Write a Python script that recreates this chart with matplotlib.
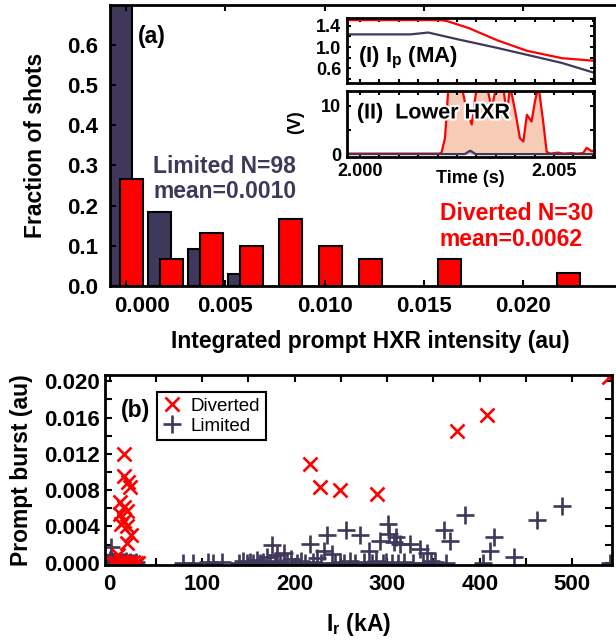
import numpy as np
import matplotlib.pyplot as plt
import matplotlib.patheffects as pe
from matplotlib.ticker import MultipleLocator, FixedLocator, FixedFormatter, NullFormatter

plt.rcParams.update({
    "font.family": "Liberation Sans",
    "font.weight": "bold",
    "axes.labelweight": "bold",
    "axes.linewidth": 2.0,
    "xtick.direction": "in",
    "ytick.direction": "in",
    "xtick.top": True,
    "ytick.right": True,
    "xtick.major.width": 1.5,
    "ytick.major.width": 1.5,
    "xtick.minor.width": 1.5,
    "ytick.minor.width": 1.5,
    "mathtext.fontset": "custom",
    "mathtext.rm": "Liberation Sans:bold",
    "mathtext.it": "Liberation Sans:bold",
    "mathtext.bf": "Liberation Sans:bold",
    "mathtext.default": "rm",
})

# (a) histogram of integrated prompt HXR intensity, bins of 0.002
limited_bins = [0.000, 0.002, 0.004, 0.006]
limited_frac = [0.704, 0.184, 0.092, 0.031]
diverted_bins = [0.000, 0.002, 0.004, 0.006, 0.008, 0.010, 0.012, 0.016, 0.022]
diverted_frac = [0.267, 0.067, 0.133, 0.100, 0.167, 0.100, 0.067, 0.067, 0.033]

# inset (I): plasma current traces
ip_t_div = [1.99960, 2.00210, 2.00225, 2.00280, 2.00353, 2.00430, 2.00520, 2.00605]
ip_div = [1.51, 1.51, 1.49, 1.36, 1.13, 0.93, 0.79, 0.74]
ip_t_lim = [1.99960, 2.00130, 2.00176, 2.00250, 2.00350, 2.00450, 2.00520, 2.00605]
ip_lim = [1.24, 1.24, 1.275, 1.15, 0.99, 0.82, 0.70, 0.51]

# inset (II): lower HXR signal
hxr_t_div = [1.99960, 2.00100, 2.00205, 2.00210, 2.00219, 2.00228, 2.00262, 2.00275,
             2.00288, 2.00301, 2.00327, 2.00339, 2.00352, 2.00369, 2.00378, 2.00387,
             2.00400, 2.00412, 2.00421, 2.00430, 2.00442, 2.00451, 2.00460, 2.00472,
             2.00481, 2.00490, 2.00510, 2.00524, 2.00545, 2.00559, 2.00575, 2.00584,
             2.00597, 2.00605]
hxr_div = [0.1, 0.1, 0.1, 0.3, 3.3, 14.0, 14.0, 8.9,
           6.1, 14.0, 14.0, 9.5, 14.0, 14.0, 8.1, 14.0,
           8.8, 3.3, 2.6, 8.1, 6.7, 10.9, 14.0, 6.7,
           0.5, 0.1, 0.3, 0.1, 0.2, 0.1, 0.2, 1.3,
           0.6, 0.8]
hxr_t_lim = [1.99960, 2.00270, 2.00284, 2.00298, 2.00605]
hxr_lim = [0.0, 0.0, 0.7, 0.0, 0.0]

# (b) prompt burst vs runaway current
diverted_ir = [15.7, 15.7, 20, 22, 11, 15.7, 19, 11, 16, 12, 19, 22.6, 19, 9,
               3, 8, 12, 16, 19, 22, 25, 28, 31,
               217, 227, 249, 289, 375, 408, 540]
diverted_burst = [0.0120, 0.0096, 0.0089, 0.0084, 0.0067, 0.0061, 0.0057, 0.0054,
                  0.0046, 0.0043, 0.0041, 0.0031, 0.0022, 0.0009,
                  0.0001, 0.0000, 0.0002, 0.0000, 0.0001, 0.0000, 0.0001, 0.0000, 0.0000,
                  0.0109, 0.0084, 0.0080, 0.0076, 0.0145, 0.0163, 0.0205]

limited_ir = [-3, -1, 0, 1, 2, 3, 4, 5, 6, 7, 8, 9, 10, 11, 12, 13, 14, 15, 16, 18,
              20, 22, 24, 26, 29, 1,
              79, 90, 106, 112, 121, 140, 144, 148, 152, 155, 159, 162, 166, 170,
              173, 176, 179, 181, 184, 188, 192, 196,
              203, 207, 211, 217, 220, 224, 228, 232, 235, 240, 244, 249, 253, 256,
              260, 265, 271, 275, 280, 284, 288, 292, 296, 299, 301, 302, 305, 307,
              310, 312, 314, 318, 325, 328,
              336, 339, 343, 347, 361, 364, 368, 384, 404, 411, 415, 437, 462, 489,
              541, 352]
limited_burst = [0.0000, 0.0001, 0.0003, 0.0000, 0.0017, 0.0001, 0.0000, 0.0002,
                 0.0000, 0.0001, 0.0000, 0.0001, 0.0000, 0.0002, 0.0000, 0.0001,
                 0.0000, 0.0001, 0.0000, 0.0002, 0.0000, 0.0001, 0.0000, 0.0000,
                 0.0001, 0.0009,
                 0.0000, 0.0000, 0.0001, 0.0000, 0.0001, 0.0000, 0.0002, 0.0000,
                 0.0001, 0.0000, 0.0003, 0.0000, 0.0001, 0.0006, 0.0000, 0.0019,
                 0.0002, 0.0009, 0.0000, 0.0011, 0.0001, 0.0004,
                 0.0000, 0.0002, 0.0000, 0.0021, 0.0001, 0.0005, 0.0000, 0.0013,
                 0.0030, 0.0010, 0.0000, 0.0001, 0.0000, 0.0036, 0.0002, 0.0000,
                 0.0030, 0.0001, 0.0013, 0.0000, 0.0002, 0.0024, 0.0000, 0.0001,
                 0.0043, 0.0032, 0.0000, 0.0023, 0.0028, 0.0000, 0.0021, 0.0001,
                 0.0021, 0.0000,
                 0.0015, 0.0000, 0.0011, 0.0002, 0.0036, 0.0000, 0.0024, 0.0053,
                 0.0000, 0.0013, 0.0028, 0.0006, 0.0047, 0.0063, 0.0000, 0.0001]

PURPLE = "#40385b"
RED = "#ff0000"
SALMON = "#f9ccb8"
LAVENDER = "#c9c3dc"

W, H = 616, 640


def box(left, top, right, bottom):
    # pixel frame -> figure fraction rectangle
    return [left / W, 1 - bottom / H, (right - left) / W, (bottom - top) / H]


fig = plt.figure(figsize=(W / 100, H / 100), dpi=100)

# ---------------- (a) histogram ----------------
ax = fig.add_axes(box(109.5, 4.5, 622.5, 286))
shift, width = 0.0003, 0.00116
ax.bar(np.array(limited_bins) - shift, limited_frac, width=width,
       color=PURPLE, edgecolor="black", linewidth=1.5)
ax.bar(np.array(diverted_bins) + shift, diverted_frac, width=width,
       color=RED, edgecolor="black", linewidth=1.5)
ax.set_xlim(-0.00083, 0.025)
ax.set_ylim(0, 0.70)
ax.xaxis.set_major_locator(FixedLocator([0.0, 0.005, 0.010, 0.015, 0.020]))
ax.xaxis.set_major_formatter(FixedFormatter(["", "0.005", "0.010", "0.015", "0.020"]))
ax.yaxis.set_major_locator(FixedLocator([0.0, 0.1, 0.2, 0.3, 0.4, 0.5, 0.6]))
ax.yaxis.set_major_formatter(lambda v, p: f"{v:.1f}")
ax.tick_params(axis="both", labelsize=16, length=4.5)
ax.tick_params(axis="x", pad=7)
ax.tick_params(axis="y", pad=8)
ax.annotate("0.000", xy=(0.0, 0), xycoords=("data", "axes fraction"),
            xytext=(16, -10), textcoords="offset pixels",
            ha="center", va="top", fontsize=16)
ax.set_xlabel("Integrated prompt HXR intensity (au)", fontsize=16.5)
ax.xaxis.set_label_coords(0.508, -0.155)
ax.set_ylabel("Fraction of shots", fontsize=16.5)
ax.yaxis.set_label_coords(-0.122, 0.5)

ax.text(0.083, 0.885, "(a)", transform=ax.transAxes, fontsize=16.5,
        ha="center", va="center")
ax.text(0.085, 0.380, "Limited N=98\nmean=0.0010", transform=ax.transAxes,
        fontsize=16.5, color=PURPLE, ha="left", va="center", linespacing=1.15)
ax.text(0.644, 0.211, "Diverted N=30\nmean=0.0062", transform=ax.transAxes,
        fontsize=16.5, color=RED, ha="left", va="center", linespacing=1.15)

# ---------------- inset (I): Ip ----------------
ax1 = fig.add_axes(box(347, 18, 594, 83))
ax1.plot(ip_t_div, ip_div, color=RED, lw=1.6)
ax1.plot(ip_t_lim, ip_lim, color=PURPLE, lw=1.6)
ax1.set_xlim(1.999665, 2.00603)
ax1.set_ylim(0.32, 1.55)
ax1.set_yticks([0.6, 1.0, 1.4])
ax1.yaxis.set_minor_locator(MultipleLocator(0.2))
ax1.xaxis.set_major_locator(FixedLocator([2.000, 2.005]))
ax1.xaxis.set_minor_locator(MultipleLocator(0.0005))
ax1.xaxis.set_major_formatter(NullFormatter())
ax1.tick_params(which="both", length=3, labelsize=13, pad=4)
ax1.text(0.045, 0.385, "(I) I$_p$ (MA)", transform=ax1.transAxes,
         fontsize=16, ha="left", va="center")

# ---------------- inset (II): lower HXR ----------------
ax2 = fig.add_axes(box(347, 91, 594, 157))
ax2.fill_between(hxr_t_div, 0, hxr_div, color=SALMON, lw=0)
ax2.fill_between(hxr_t_lim, 0, hxr_lim, color=LAVENDER, lw=0)
ax2.plot(hxr_t_div, hxr_div, color=RED, lw=1.6)
ax2.plot(hxr_t_lim, hxr_lim, color=PURPLE, lw=1.6)
ax2.set_xlim(1.999665, 2.00603)
ax2.set_ylim(-0.6, 13)
ax2.set_yticks([0, 10])
ax2.yaxis.set_minor_locator(MultipleLocator(5))
ax2.xaxis.set_major_locator(FixedLocator([2.000, 2.005]))
ax2.xaxis.set_major_formatter(FixedFormatter(["2.000", "2.005"]))
ax2.xaxis.set_minor_locator(MultipleLocator(0.0005))
ax2.tick_params(which="both", length=3, labelsize=13, pad=4)
ax2.set_xlabel("Time (s)", fontsize=13, labelpad=-7)
ax2.text(0.04, 0.667, "(II)  Lower HXR", transform=ax2.transAxes,
         fontsize=15.5, ha="left", va="center",
         path_effects=[pe.withStroke(linewidth=3, foreground="white")])
fig.text(296 / W, 1 - 122 / H, "(V)", rotation=90, fontsize=13,
         ha="center", va="center")

# ---------------- (b) scatter ----------------
axb = fig.add_axes(box(105, 375, 612, 564.5))
axb.plot(limited_ir, limited_burst, ls="none", marker="+", ms=13, mew=1.9,
         color=PURPLE, label="Limited")
axb.plot(diverted_ir, diverted_burst, ls="none", marker="x", ms=10, mew=1.9,
         color=RED, label="Diverted")
axb.set_xlim(-5, 543)
axb.set_ylim(-0.0002, 0.0207)
axb.xaxis.set_major_locator(MultipleLocator(100))
axb.xaxis.set_minor_locator(MultipleLocator(50))
axb.yaxis.set_major_locator(MultipleLocator(0.004))
axb.yaxis.set_minor_locator(MultipleLocator(0.002))
axb.yaxis.set_major_formatter(lambda v, p: f"{v:.3f}")
axb.tick_params(which="major", length=5, labelsize=16)
axb.tick_params(which="minor", length=5)
axb.tick_params(axis="x", pad=7)
axb.tick_params(axis="y", pad=4)
axb.set_xlabel("I$_r$ (kA)", fontsize=16.5)
axb.xaxis.set_label_coords(0.5, -0.245)
axb.set_ylabel("Prompt burst (au)", fontsize=16.5)
axb.yaxis.set_label_coords(-0.142, 0.5)
axb.text(0.061, 0.815, "(b)", transform=axb.transAxes, fontsize=16.5,
         ha="center", va="center")
handles, labels = axb.get_legend_handles_labels()
leg = axb.legend(handles[::-1], labels[::-1], loc="upper left",
                 bbox_to_anchor=(0.1026, 0.91), borderaxespad=0,
                 prop={"size": 13.5, "weight": "normal"}, handlelength=1.0,
                 handletextpad=0.5, borderpad=0.3, labelspacing=0.15,
                 fancybox=False, framealpha=1)
leg.get_frame().set_edgecolor("black")
leg.get_frame().set_linewidth(1.5)

fig.savefig("out.png", dpi=100)
